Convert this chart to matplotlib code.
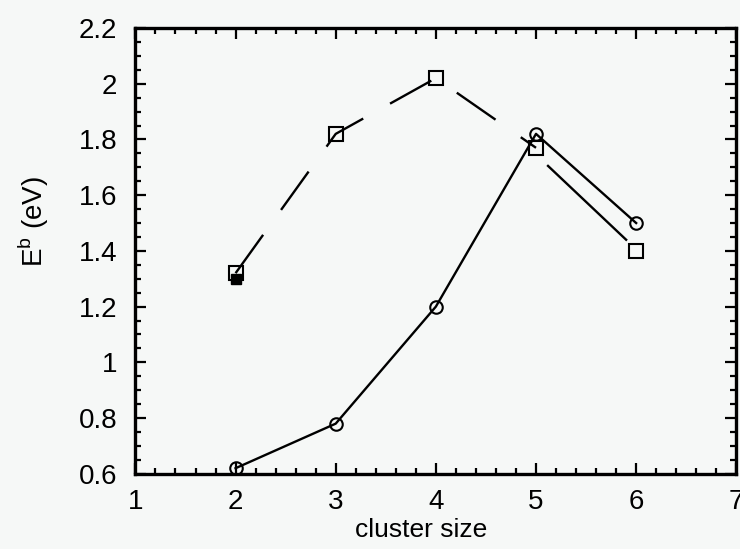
import numpy as np
import matplotlib.pyplot as plt
from matplotlib.ticker import MultipleLocator

plt.rcParams['font.family'] = ['Liberation Sans', 'DejaVu Sans']

# binding energy vs cluster size
size_circ = [2, 3, 4, 5, 6]
eb_circ = [0.62, 0.78, 1.20, 1.82, 1.50]

size_sq = [2, 3, 4, 5]
eb_sq = [1.32, 1.82, 2.02, 1.77]
size_sq_end = [6]
eb_sq_end = [1.40]
size_filled = [2]
eb_filled = [1.30]

bg = '#f6f8f7'
fig = plt.figure(figsize=(7.4, 5.49), dpi=100, facecolor=bg)
ax = fig.add_axes([0.183, 0.137, 0.812, 0.812])
ax.set_facecolor(bg)

ax.plot(size_circ, eb_circ, '-', color='black', lw=1.7,
        marker='o', ms=9, mfc='none', mec='black', mew=1.5)
ax.plot(size_sq, eb_sq, color='black', lw=1.7, dashes=(20, 13),
        marker='s', ms=9.5, mfc='none', mec='black', mew=1.5)
# stray dashed piece below the 5-6 solid segment
ax.plot([5.12, 5.9], [1.705, 1.44], color='black', lw=1.7)
ax.plot(size_sq_end, eb_sq_end, 's', ms=9.5, mfc='none', mec='black', mew=1.5)
ax.plot(size_filled, eb_filled, 's', ms=7.5, color='black')

ax.set_xlim(1, 7)
ax.set_ylim(0.6, 2.2)
ax.xaxis.set_minor_locator(MultipleLocator(0.2))
ax.yaxis.set_minor_locator(MultipleLocator(0.05))
ax.set_yticks(np.arange(0.6, 2.21, 0.2))
ax.set_yticklabels(['0.6', '0.8', '1', '1.2', '1.4', '1.6', '1.8', '2', '2.2'])
ax.set_xticks(range(1, 8))
ax.set_xticklabels([str(i) for i in range(1, 8)])

ax.tick_params(which='both', direction='in', top=True, right=True,
               labelsize=20, width=1.6, color='black')
ax.tick_params(which='major', length=8, pad=11)
ax.tick_params(axis='y', which='major', pad=13)
ax.tick_params(which='minor', length=4)
for s in ax.spines.values():
    s.set_linewidth(2.4)

ax.set_xlabel('cluster size', fontsize=19)
ax.xaxis.set_label_coords(0.475, -0.1)
ax.set_ylabel('E$^\\mathregular{b}$ (eV)', fontsize=20)
ax.yaxis.set_label_coords(-0.14, 0.565)

plt.savefig('out.png', dpi=100, facecolor=bg)
